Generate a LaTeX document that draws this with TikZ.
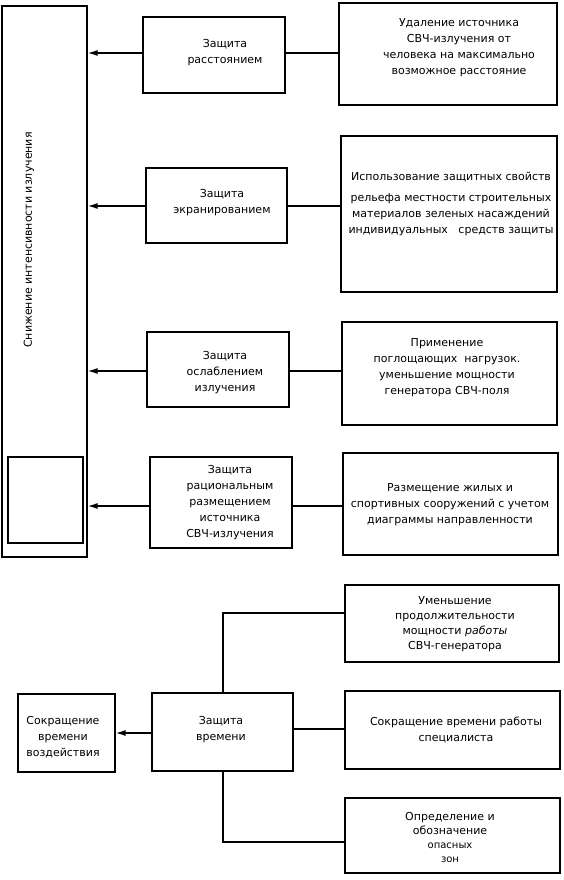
\documentclass[tikz,border=0pt]{standalone}
\usepackage{fontspec}
\setmainfont{DejaVu Sans}
\usetikzlibrary{arrows.meta,fit}
\begin{document}
\begin{tikzpicture}[x=1pt,y=-1pt,
  box/.style={draw, line width=1.2pt, rectangle, inner sep=0pt},
  txt/.style={align=center, inner sep=0pt, font=\fontsize{11}{16}\selectfont},
  conn/.style={line width=1.5pt},
  arr/.style={line width=1.5pt, -{Latex[length=10pt,width=6pt]}}
]
\useasboundingbox (0,0) rectangle (564,880);

% left tall box and inner box
\node[box, fit={(2,6) (87,557)}] (big) {};
\node[box, fit={(8,457) (83,543)}] (inner) {};
\node[txt, rotate=90] (tbig) at (29,240) {Снижение интенсивности излучения};

% middle boxes
\node[box, fit={(143,17) (285,93)}] (B1) {};
\node[box, fit={(146,168) (287,243)}] (B2) {};
\node[box, fit={(147,332) (289,407)}] (B3) {};
\node[box, fit={(150,457) (292,548)}] (B4) {};

% right boxes
\node[box, fit={(339,3) (557,105)}] (R1) {};
\node[box, fit={(341,136) (557,292)}] (R2) {};
\node[box, fit={(342,322) (557,425)}] (R3) {};
\node[box, fit={(343,453) (558,555)}] (R4) {};

% texts
\node[txt] (tB1) at (225,53) {Защита\\расстоянием};
\node[txt] (tR1) at (459,48) {Удаление источника\\СВЧ-излучения от\\человека на максимально\\возможное расстояние};
\node[txt] (tB2) at (222,203) {Защита\\экранированием};
\node[txt] (tR2) at (451,204) {Использование защитных свойств\\[5pt]рельефа местности строительных\\материалов зеленых насаждений\\индивидуальных\ \ \ средств защиты};
\node[txt] (tB3) at (225,373) {Защита\\ослаблением\\излучения};
\node[txt] (tR3) at (447,368) {Применение\\поглощающих\ \ нагрузок.\\уменьшение мощности\\генератора СВЧ-поля};
\node[txt] (tB4) at (230,503) {Защита\\рациональным\\размещением\\источника\\СВЧ-излучения};
\node[txt] (tR4) at (450,505) {Размещение жилых и\\спортивных сооружений с учетом\\диаграммы направленности};

% row coordinates
\coordinate (y1) at (0,53);
\coordinate (y2) at (0,206);
\coordinate (y3) at (0,371);
\coordinate (y4) at (0,506);

\foreach \i in {1,2,3,4}{
  \draw[conn] (B\i.east |- y\i) -- (R\i.west |- y\i);
  \draw[arr] (B\i.west |- y\i) -- (big.east |- y\i);
}

% bottom part
\node[box, fit={(18,694) (115,772)}] (S) {};
\node[box, fit={(152,693) (293,771)}] (Z) {};
\node[box, fit={(345,585) (559,662)}] (U) {};
\node[box, fit={(345,691) (560,769)}] (P) {};
\node[box, fit={(345,798) (560,873)}] (O) {};

\node[txt] (tS) at (63,737) {Сокращение\\времени\\воздействия};
\node[txt] (tZ) at (221,730) {Защита\\времени};
\node[txt, font=\fontsize{11}{15}\selectfont] (tU) at (455,624) {Уменьшение\\продолжительности\\мощности \textit{работы}\\СВЧ-генератора};
\node[txt] (tP) at (456,730) {Сокращение времени работы\\специалиста};
\node[txt, font=\fontsize{11}{14}\selectfont] (tO) at (450,837) {Определение и\\обозначение\\{\fontsize{10}{13}\selectfont опасных}\\{\fontsize{10}{13}\selectfont зон}};

\coordinate (xz) at (223,0);
\coordinate (yu) at (0,613);
\coordinate (yz) at (0,733);
\coordinate (yp) at (0,729);
\coordinate (yo) at (0,842);

\draw[arr] (Z.west |- yz) -- (S.east |- yz);
\draw[conn] (Z.east |- yp) -- (P.west |- yp);
\draw[conn] (U.west |- yu) -| (Z.north -| xz);
\draw[conn] (Z.south -| xz) |- (O.west |- yo);
\end{tikzpicture}
\end{document}
